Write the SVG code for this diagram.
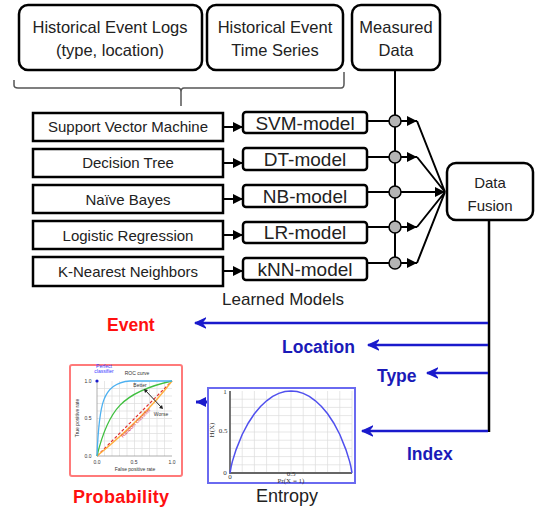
<svg xmlns="http://www.w3.org/2000/svg" width="536" height="510" viewBox="0 0 536 510">
<defs>
<style>
.t{font-family:"Liberation Sans",Arial,sans-serif;fill:#222;text-anchor:middle}
.box{fill:#fff;stroke:#000;stroke-width:2.5}
.ln{stroke:#000;stroke-width:2;fill:none}
.bl{stroke:#1a1acc;stroke-width:2.5;fill:none}
.bt{font-family:"Liberation Sans",Arial,sans-serif;font-weight:bold;font-size:17.5px;fill:#1a1ab8}
.circ{fill:#b4b4b4;stroke:#000;stroke-width:1.5}
.sm{font-family:"Liberation Sans",Arial,sans-serif;font-size:5px;fill:#333;text-anchor:middle}
.se{font-family:"Liberation Serif","Times New Roman",serif;font-size:7px;fill:#333;text-anchor:middle}
.grid{stroke:#ddd;stroke-width:0.7}
</style>
<marker id="ab" viewBox="0 0 10 10" refX="10" refY="5" markerUnits="userSpaceOnUse" markerWidth="12" markerHeight="10" orient="auto"><path d="M0,0L10,5L0,10Z" fill="#000"/></marker>
<marker id="au" viewBox="0 0 10 10" refX="9" refY="5" markerUnits="userSpaceOnUse" markerWidth="12" markerHeight="12" orient="auto"><path d="M0,0.8L9,5L0,9.2L3.5,5Z" fill="#1a1acc" stroke="#1a1acc" stroke-width="1" stroke-linejoin="round"/></marker>
<marker id="af" viewBox="0 0 10 10" refX="10" refY="5" markerUnits="userSpaceOnUse" markerWidth="10" markerHeight="12" orient="auto"><path d="M0,0L10,5L0,10Z" fill="#1a1acc"/></marker>
</defs>
<rect width="536" height="510" fill="#fff"/>

<g id="hist-logs"><rect class="box" x="19" y="5" width="183" height="65" rx="9"/>
<text class="t" x="110" y="33" font-size="16.5">Historical Event Logs</text>
<text class="t" x="110" y="56" font-size="16.5">(type, location)</text></g>
<g id="hist-ts"><rect class="box" x="207" y="5" width="136" height="65" rx="9"/>
<text class="t" x="275" y="33" font-size="16.5">Historical Event</text>
<text class="t" x="275" y="56" font-size="16.5">Time Series</text></g>
<g id="measured"><rect class="box" x="352" y="5" width="88" height="65" rx="9"/>
<text class="t" x="396" y="33" font-size="16.5">Measured</text>
<text class="t" x="396" y="56" font-size="16.5">Data</text></g>

<g id="brace"><path d="M14,80V85Q14,88 18,88H178Q181,88 181,92V106M181,92Q181,88 184,88H341Q344,88 344,84V72" fill="none" stroke="#555" stroke-width="1.5"/></g>

<g id="svm"><rect class="box" x="33" y="113" width="190" height="28"/><text class="t" x="128" y="132" font-size="15">Support Vector Machine</text></g>
<g id="dt"><rect class="box" x="33" y="149" width="190" height="28"/><text class="t" x="128" y="168" font-size="15">Decision Tree</text></g>
<g id="nb"><rect class="box" x="33" y="185" width="190" height="28"/><text class="t" x="128" y="205" font-size="15">Naïve Bayes</text></g>
<g id="lr"><rect class="box" x="33" y="221" width="190" height="28"/><text class="t" x="128" y="241" font-size="15">Logistic Regression</text></g>
<g id="knn"><rect class="box" x="33" y="257" width="190" height="29"/><text class="t" x="128" y="277" font-size="15">K-Nearest Neighbors</text></g>

<g id="svm-model"><rect class="box" x="243" y="112" width="124" height="21" rx="3"/><text class="t" x="305" y="130" font-size="19">SVM-model</text></g>
<g id="dt-model"><rect class="box" x="243" y="148" width="124" height="22" rx="3"/><text class="t" x="305" y="166" font-size="19">DT-model</text></g>
<g id="nb-model"><rect class="box" x="243" y="185" width="124" height="22" rx="3"/><text class="t" x="305" y="203" font-size="19">NB-model</text></g>
<g id="lr-model"><rect class="box" x="243" y="222" width="124" height="21" rx="3"/><text class="t" x="305" y="239" font-size="19">LR-model</text></g>
<g id="knn-model"><rect class="box" x="243" y="258" width="124" height="22" rx="3"/><text class="t" x="305" y="276" font-size="19">kNN-model</text></g>

<g id="fusion"><rect class="box" x="447" y="163" width="86" height="57" rx="9" stroke-width="2"/>
<text class="t" x="490" y="188" font-size="15">Data</text>
<text class="t" x="490" y="211" font-size="15">Fusion</text></g>

<g id="connectors">
<line class="ln" x1="223" y1="127" x2="243" y2="127" marker-end="url(#ab)"/>
<line class="ln" x1="223" y1="163" x2="243" y2="163" marker-end="url(#ab)"/>
<line class="ln" x1="223" y1="199" x2="243" y2="199" marker-end="url(#ab)"/>
<line class="ln" x1="223" y1="235" x2="243" y2="235" marker-end="url(#ab)"/>
<line class="ln" x1="223" y1="271" x2="243" y2="271" marker-end="url(#ab)"/>
<line class="ln" x1="395" y1="70" x2="395" y2="263"/>
<line class="ln" x1="367" y1="121" x2="417" y2="121" marker-end="url(#ab)"/>
<line class="ln" x1="367" y1="157" x2="417" y2="157" marker-end="url(#ab)"/>
<line class="ln" x1="367" y1="192" x2="445" y2="192" marker-end="url(#ab)"/>
<line class="ln" x1="367" y1="227" x2="417" y2="227" marker-end="url(#ab)"/>
<line class="ln" x1="367" y1="263" x2="417" y2="263" marker-end="url(#ab)"/>
<path class="ln" d="M417,121L445,192M417,157L445,192M417,227L445,192M417,263L445,192"/>
<circle class="circ" cx="395" cy="121" r="6"/>
<circle class="circ" cx="395" cy="157" r="6"/>
<circle class="circ" cx="395" cy="192" r="6"/>
<circle class="circ" cx="395" cy="227" r="6"/>
<circle class="circ" cx="395" cy="263" r="6"/>
<line x1="489" y1="220" x2="489" y2="432" stroke="#000" stroke-width="2.5"/>
<line class="bl" x1="488" y1="323" x2="195" y2="323" marker-end="url(#au)"/>
<line class="bl" x1="488" y1="345" x2="368" y2="345" marker-end="url(#au)"/>
<line class="bl" x1="488" y1="373" x2="427" y2="373" marker-end="url(#au)"/>
<line class="bl" x1="488" y1="431" x2="362" y2="431" marker-end="url(#au)"/>
<line x1="214" y1="402" x2="196" y2="402" stroke="#1a1acc" stroke-width="3" marker-end="url(#af)"/>
</g>

<text class="t" x="283" y="305" font-size="17">Learned Models</text>
<text x="107" y="331" font-family="Liberation Sans,Arial,sans-serif" font-weight="bold" font-size="17.5" fill="#ff1010">Event</text>
<text class="bt" x="282" y="353">Location</text>
<text class="bt" x="377" y="382">Type</text>
<text class="bt" x="407" y="460">Index</text>

<g id="roc">
<rect x="70" y="365" width="112" height="111" rx="2" fill="#fff" stroke="#ff7a7a" stroke-width="2"/>
<g class="grid">
<path d="M104.5,381V456M112,381V456M119.5,381V456M127,381V456M134.5,381V456M142,381V456M149.5,381V456M157,381V456M164.5,381V456M97,388.5H172M97,396H172M97,403.5H172M97,411H172M97,418.5H172M97,426H172M97,433.5H172M97,441H172M97,448.5H172"/>
</g>
<path d="M97,381V456H172" fill="none" stroke="#999" stroke-width="0.8"/>
<line x1="97" y1="456" x2="172" y2="381" stroke="#e03030" stroke-width="1.2" stroke-dasharray="3,2"/>
<path d="M97,456C125,433 150,410 172,381" fill="none" stroke="#ffb040" stroke-width="1.3"/>
<path d="M97,456C108,410 122,392 172,381" fill="none" stroke="#40c040" stroke-width="1.3"/>
<path d="M97,456C99,405 102,383 130,381L172,381" fill="none" stroke="#4cb0f0" stroke-width="1.3"/>
<circle cx="97" cy="381" r="1.6" fill="#1a1acc"/>
<text class="sm" x="104" y="368" style="fill:#3a3aff">Perfect</text>
<text class="sm" x="104" y="373" style="fill:#3a3aff">classifier</text>
<text class="sm" x="137" y="375" font-size="6">ROC curve</text>
<text class="sm" x="140" y="387">Better</text>
<text class="sm" x="161" y="416">Worse</text>
<path d="M145,390L162,408" stroke="#222" stroke-width="1"/>
<path d="M144,389L148,390L145,393Z M163,409L159,408L162,405Z" fill="#222"/>
<text class="sm" transform="translate(137,424) rotate(-45)" style="fill:#e03030">Random classifier</text>
<text class="sm" x="88" y="383">1.0</text>
<text class="sm" x="88" y="420">0.5</text>
<text class="sm" x="88" y="458">0.0</text>
<text class="sm" x="97" y="464">0.0</text>
<text class="sm" x="134" y="464">0.5</text>
<text class="sm" x="172" y="464">1.0</text>
<text class="sm" x="135" y="471">False positive rate</text>
<text class="sm" transform="translate(79,418) rotate(-90)">True positive rate</text>
</g>
<text x="73" y="503" font-family="Liberation Sans,Arial,sans-serif" font-weight="bold" font-size="18" fill="#ff1010" letter-spacing="0.3">Probability</text>

<g id="entropy">
<rect x="208" y="388" width="147" height="95" fill="#fff" stroke="#6a6af0" stroke-width="2"/>
<g class="grid">
<path d="M242.2,391V473M254.4,391V473M266.6,391V473M278.8,391V473M291,391V473M303.2,391V473M315.4,391V473M327.6,391V473M339.8,391V473M352,391V473M230,399.2H352M230,407.4H352M230,415.6H352M230,423.8H352M230,432H352M230,440.2H352M230,448.4H352M230,456.6H352M230,464.8H352"/>
</g>
<path d="M230,391V473H352" fill="none" stroke="#666" stroke-width="1.8"/>
<polyline points="230,473 231.2,466.4 232.4,461.4 236.1,449.6 242.2,434.5 248.3,423 254.4,413.8 260.5,406.5 266.6,400.8 272.7,396.4 278.8,393.4 284.9,391.6 291,391 297.1,391.6 303.2,393.4 309.3,396.4 315.4,400.8 321.5,406.5 327.6,413.8 333.7,423 339.8,434.5 345.9,449.6 349.6,461.4 350.8,466.4 352,473" fill="none" stroke="#5050ee" stroke-width="1.5"/>
<text class="se" x="225" y="394">1</text>
<text class="se" x="223" y="433">0.5</text>
<text class="se" x="225" y="475">0</text>
<text class="se" transform="translate(214,430) rotate(-90)" font-size="6">H(X)</text>
<text class="se" x="230" y="479">0</text>
<text class="se" x="291" y="476" font-size="4.5">0.5</text>
<text class="se" x="291" y="482.5" font-size="5.5">Pr(X = 1)</text>
</g>
<text class="t" x="287" y="502" font-size="18">Entropy</text>
</svg>
